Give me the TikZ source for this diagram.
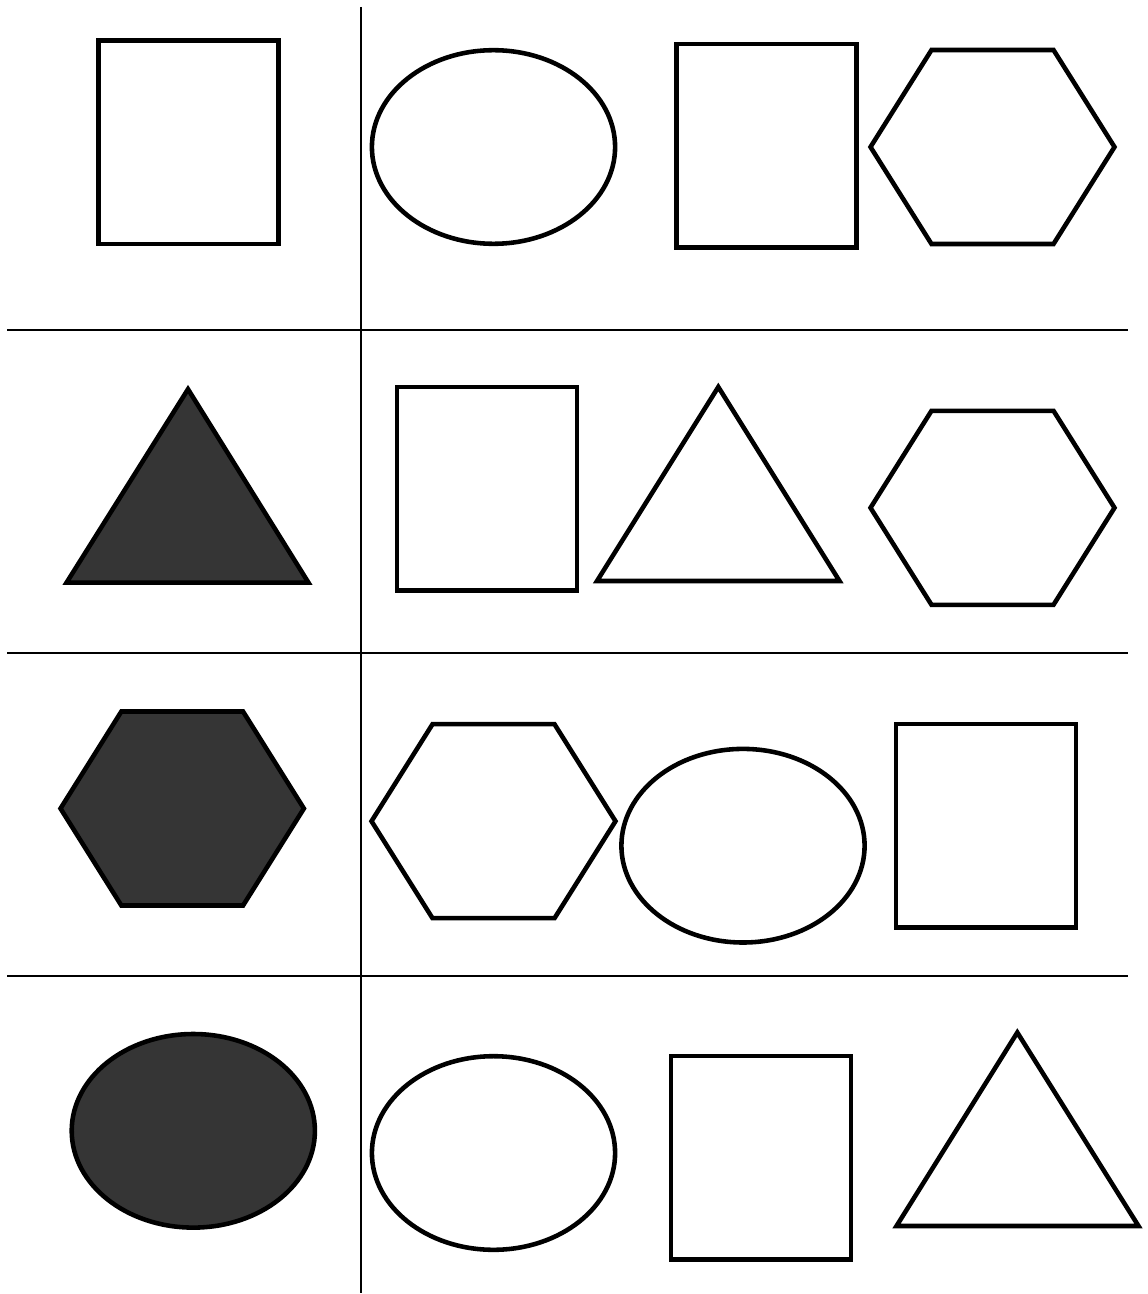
\documentclass[tikz,border=0pt]{standalone}
\usepackage{tikz}
\definecolor{darkfill}{HTML}{353535}

\begin{document}
\begin{tikzpicture}[x=0.02cm, y=-0.02cm,
    outline/.style={draw=black, line width=2.6pt, line join=miter},
    grid line/.style={draw=black, line width=1.3pt}]
\useasboundingbox (0,0) rectangle (1148,1294);
% grid
\draw[grid line] (361,7) -- (361,1293);
\foreach \y in {330, 652.7, 975.7} {
    \draw[grid line] (7,\y) -- (1128,\y);
}
% rectangles
\foreach \x/\y in {98.5/40.5, 676.5/44, 397/387, 896/724, 671/1056} {
    \draw[outline] (\x,\y) rectangle ++(180,203.5);
}
% ellipses
\foreach \cx/\cy/\fc in {493.5/147/white, 743/845.7/white, 193.3/1130.8/darkfill, 493.5/1153/white} {
    \draw[outline, fill=\fc] (\cx,\cy) ellipse [x radius=121.6, y radius=96.8];
}
% hexagons
\foreach \cx/\cy/\hw/\fc in {992.5/147/122/white, 992.5/507.8/122/white, 182.2/808.5/121.7/darkfill, 493.5/821.2/122/white} {
    \draw[outline, fill=\fc] ({\cx-\hw},\cy) -- ({\cx-\hw/2},{\cy-97}) -- ({\cx+\hw/2},{\cy-97})
        -- ({\cx+\hw},\cy) -- ({\cx+\hw/2},{\cy+97}) -- ({\cx-\hw/2},{\cy+97}) -- cycle;
}
% triangles
\foreach \ax/\ay/\l/\r/\b/\fc in {188/389.2/66.5/308.5/582.7/darkfill, 718.3/387/597/839.5/581/white, 1017.3/1032.5/896.5/1138.5/1226/white} {
    \draw[outline, fill=\fc] (\ax,\ay) -- (\r,\b) -- (\l,\b) -- cycle;
}
\end{tikzpicture}
\end{document}
